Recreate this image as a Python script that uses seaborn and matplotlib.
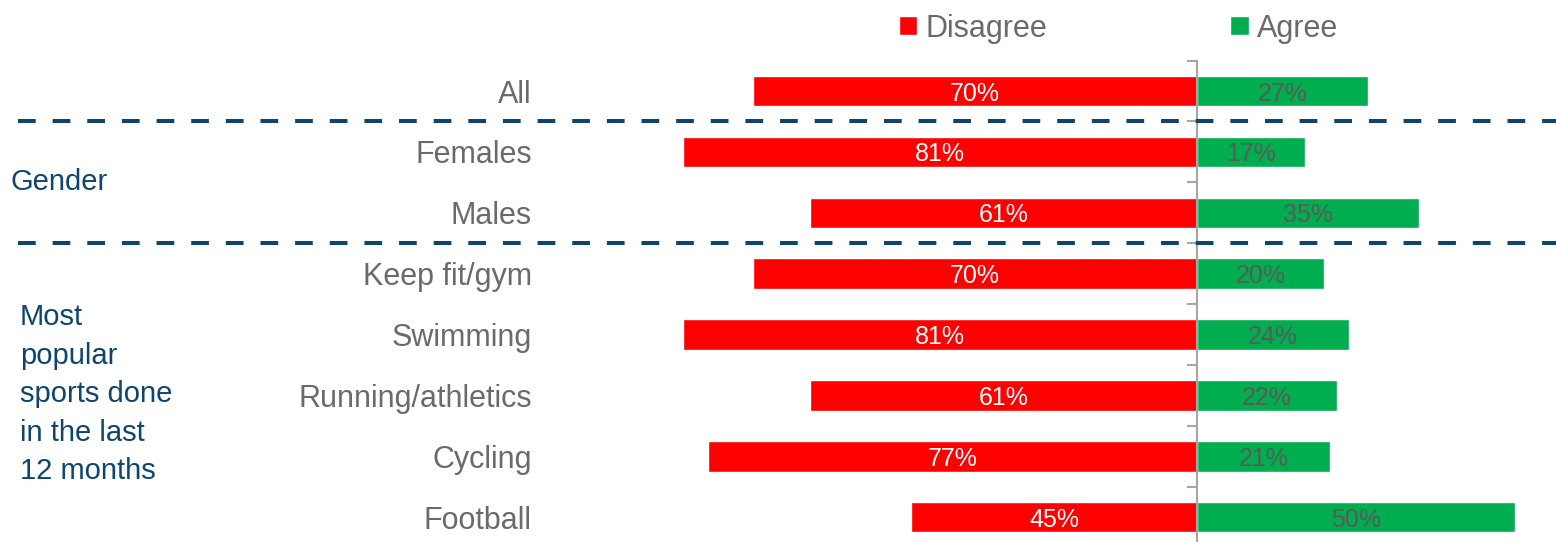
import matplotlib
matplotlib.use("Agg")
import matplotlib.pyplot as plt
import matplotlib.transforms as mtransforms
import seaborn as sns
import pandas as pd
import numpy as np

categories = ["All", "Females", "Males", "Keep fit/gym", "Swimming",
              "Running/athletics", "Cycling", "Football"]
disagree = [70, 81, 61, 70, 81, 61, 77, 45]
agree = [27, 17, 35, 20, 24, 22, 21, 50]
series_names = ["Disagree", "Agree"]
group_labels = ["Gender", "Most\npopular\nsports done\nin the last\n12 months"]

RED = "#FF0000"
GREEN = "#00AD4F"
GREY_TEXT = "#6A6A6A"
NAVY = "#0E4570"
AXIS_GREY = "#A6A6A6"

sns.set_theme(style="white")
plt.rcParams["font.family"] = ["Liberation Sans", "DejaVu Sans"]

df = pd.DataFrame({"category": categories,
                   "disagree": [-v for v in disagree],
                   "agree": agree})

W, H = 1556, 542
fig = plt.figure(figsize=(W / 100, H / 100), dpi=100)
ax = fig.add_axes([560 / W, -5.6 / H, 1 - 560 / W, (542 - 60.6 + 5.6) / H])

sns.barplot(data=df, y="category", x="disagree", orient="h", color=RED,
            width=0.5, saturation=1, label=series_names[0], ax=ax)
sns.barplot(data=df, y="category", x="agree", orient="h", color=GREEN,
            width=0.5, saturation=1, label=series_names[1], ax=ax)

ax.set_xlim(-(1197 - 560) / 6.35, (1556 - 1197) / 6.35)
ax.set_ylim(len(categories) - 0.5, -0.5)
ax.set_xlabel("")
ax.set_ylabel("")
ax.set_xticks([])

# value labels centred inside each bar
texts = ax.bar_label(ax.containers[0], labels=[f"{v}%" for v in disagree],
                     label_type="center", color="white", fontsize=18)
texts += ax.bar_label(ax.containers[1], labels=[f"{v}%" for v in agree],
                      label_type="center", color="#5A5A5A", fontsize=18)
for t in texts:
    t.set_va("center_baseline")

# zero axis with ticks between rows
for s in ["top", "right", "bottom"]:
    ax.spines[s].set_visible(False)
ax.spines["left"].set_position(("data", 0))
ax.spines["left"].set_color(AXIS_GREY)
ax.spines["left"].set_linewidth(1.5)
ax.set_yticks(np.arange(len(categories)))
ax.set_yticklabels([])
ax.set_yticks(np.arange(len(categories) + 1) - 0.5, minor=True)
ax.tick_params(axis="y", which="major", length=0)
ax.tick_params(axis="y", which="minor", left=True, length=7,
               width=1.5, color=AXIS_GREY, direction="out")

# category names, right aligned
lab_tr = mtransforms.blended_transform_factory(fig.transFigure, ax.transData)
for i, c in enumerate(categories):
    ax.text(532 / W, i, c, transform=lab_tr, ha="right", va="center_baseline",
            fontsize=22, color=GREY_TEXT, clip_on=False)

# group separators
for yb in [0.5, 2.5]:
    ax.plot([18 / W, 1.0], [yb, yb], transform=lab_tr, color=NAVY,
            lw=2.9, linestyle=(0, (4.4, 4.2)), clip_on=False, zorder=5)

# group names
ax.text(10 / W, 1.45, group_labels[0], transform=lab_tr, ha="left",
        va="center_baseline", fontsize=21, color=NAVY, clip_on=False)
ax.text(20 / W, 4.98, group_labels[1], transform=lab_tr, ha="left",
        va="center", fontsize=21, color=NAVY, linespacing=1.48,
        clip_on=False)

leg = ax.legend(loc="center left", bbox_to_anchor=(899 / W, 1 - 28.5 / H),
                bbox_transform=fig.transFigure, ncol=2, frameon=False,
                fontsize=22, handlelength=0.6, handleheight=0.6,
                handletextpad=0.26, columnspacing=6.0, borderpad=0,
                borderaxespad=0)
for t in leg.get_texts():
    t.set_color(GREY_TEXT)

fig.savefig("out.png", dpi=100)
